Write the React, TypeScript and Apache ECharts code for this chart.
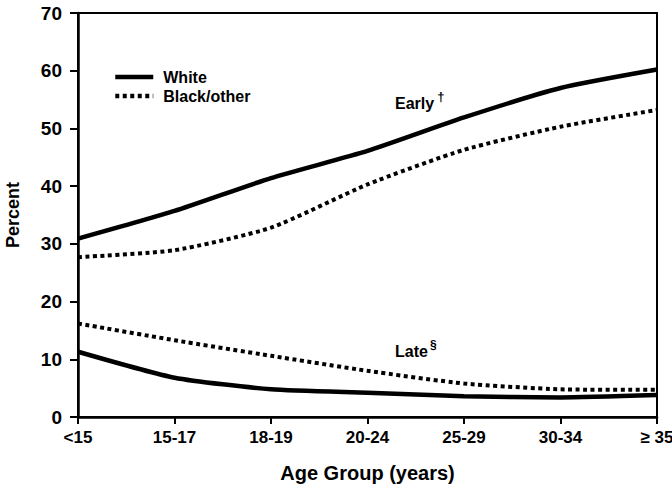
import React, { useEffect, useRef } from "react";
import * as echarts from "echarts";

const categories = ["<15", "15-17", "18-19", "20-24", "25-29", "30-34", "≥ 35"];
const whiteEarly = [30.9, 35.7, 41.4, 46.1, 51.9, 57.0, 60.2];
const blackEarly = [27.7, 28.9, 32.8, 40.3, 46.3, 50.3, 53.2];
const blackLate = [16.2, 13.3, 10.6, 8.0, 5.8, 4.8, 4.7];
const whiteLate = [11.3, 6.8, 4.8, 4.2, 3.6, 3.4, 3.8];
const yTicks = { min: 0, max: 70, interval: 10 };

const FONT = "Liberation Sans, Arial, Helvetica, sans-serif";

export default function App() {
  const ref = useRef<HTMLDivElement>(null);
  useEffect(() => {
    if (!ref.current) return;
    const chart = echarts.init(ref.current, undefined, { renderer: "svg" });
    const solid = { color: "#000", width: 4.5, type: "solid" as const };
    const dotted = { color: "#000", width: 4, type: [4, 3.5] as any };
    const mk = (name: string, data: number[], ls: any) => ({
      name,
      type: "line",
      data,
      smooth: 0.2,
      symbol: "none",
      lineStyle: ls,
      itemStyle: { color: "#000" },
      emphasis: { disabled: true },
    });
    chart.setOption({
      animation: false,
      textStyle: { fontFamily: FONT },
      grid: {
        left: 78,
        right: 15,
        top: 13,
        bottom: 69,
        show: true,
        borderColor: "#000",
        borderWidth: 2,
        containLabel: false,
        outerBoundsMode: "none",
      },
      legend: {
        orient: "vertical",
        left: 108,
        top: 64,
        itemWidth: 38,
        itemHeight: 6,
        itemGap: 3,
        itemStyle: { opacity: 0 },
        lineStyle: { width: 4.5 },
        textStyle: {
          fontFamily: FONT,
          fontSize: 16,
          color: "#000",
          fontWeight: "bold",
          padding: [0, 0, 0, 5],
        },
        data: ["White", "Black/other"],
        selectedMode: false,
      },
      xAxis: {
        type: "category",
        data: categories,
        boundaryGap: false,
        axisLine: { lineStyle: { color: "#000", width: 2.5 } },
        axisTick: { alignWithLabel: true, length: 7, lineStyle: { color: "#000", width: 2 } },
        axisLabel: {
          color: "#000",
          fontSize: 17,
          fontWeight: "bold",
          fontFamily: FONT,
          margin: 12,
        },
        name: "Age Group (years)",
        nameLocation: "middle",
        nameGap: 46,
        nameTextStyle: { color: "#000", fontSize: 20, fontWeight: "bold", fontFamily: FONT },
      },
      yAxis: {
        type: "value",
        min: yTicks.min,
        max: yTicks.max,
        interval: yTicks.interval,
        splitLine: { show: false },
        axisLine: { show: true, lineStyle: { color: "#000", width: 2.5 } },
        axisTick: { show: true, length: 8, lineStyle: { color: "#000", width: 2 } },
        axisLabel: {
          color: "#000",
          fontSize: 19,
          fontWeight: "bold",
          fontFamily: FONT,
          margin: 16,
        },
        name: "Percent",
        nameLocation: "middle",
        nameGap: 56,
        nameTextStyle: { color: "#000", fontSize: 18, fontWeight: "bold", fontFamily: FONT },
      },
      graphic: [
        {
          type: "text",
          left: 395,
          top: 90,
          style: {
            text: "{a|Early}{s|†}",
            rich: {
              a: { fontSize: 16, fontFamily: FONT, fill: "#000", fontWeight: "bold", verticalAlign: "bottom" },
              s: { fontSize: 13, fontFamily: FONT, fill: "#000", fontWeight: "bold", padding: [0, 0, 8, 3] },
            },
          },
        },
        {
          type: "text",
          left: 395,
          top: 339,
          style: {
            text: "{a|Late}{s|§}",
            rich: {
              a: { fontSize: 16, fontFamily: FONT, fill: "#000", fontWeight: "bold", verticalAlign: "bottom" },
              s: { fontSize: 12, fontFamily: FONT, fill: "#000", fontWeight: "bold", padding: [0, 0, 8, 2] },
            },
          },
        },
      ],
      series: [
        mk("White", whiteEarly, solid),
        mk("Black/other", blackEarly, dotted),
        mk("Black/other", blackLate, dotted),
        mk("White", whiteLate, solid),
      ],
    });
    return () => chart.dispose();
  }, []);
  return (
    <div
      ref={ref}
      style={{ position: "fixed", left: 0, top: 0, width: 672, height: 486, background: "#fff" }}
    />
  );
}
